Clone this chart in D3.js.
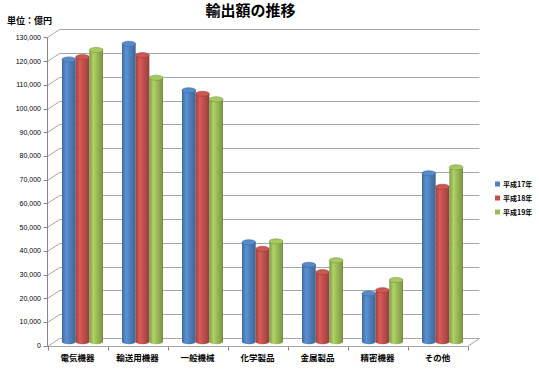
<!DOCTYPE html>
<html><head><meta charset="utf-8">
<script src="https://cdn.jsdelivr.net/npm/d3@7/dist/d3.min.js"></script>
<style>body{margin:0;background:#fff}svg{display:block}</style>
</head><body>
<script>
const categories = ["電気機器","輸送用機器","一般機械","化学製品","金属製品","精密機器","その他"];
const seriesNames = ["平成17年","平成18年","平成19年"];
const values17 = [119000,125600,106000,41900,32400,20300,71000];
const values18 = [120000,120800,104500,39100,29300,21700,65300];
const values19 = [123000,111300,102200,42300,34300,26000,73500];
const yTicks = [0,10000,20000,30000,40000,50000,60000,70000,80000,90000,100000,110000,120000,130000];
const colors = ["#4F81BD","#C0504D","#9BBB59"];
const seriesValues = [values17, values18, values19];

const W = 539, H = 369;
const svg = d3.select("body").append("svg").attr("width", W).attr("height", H);
const defs = svg.append("defs");

const DX = 12, DY = -8; // depth offset
const y = d3.scaleLinear().domain([0,130000]).range([345.7, 37.4]);
const x0 = d3.scaleBand().domain(categories).range([47.5, 467.5]);
const x1 = d3.scaleBand().domain(seriesNames).range([9.5, 50.5]);

// gradients
colors.forEach((c,i)=>{
  const g = defs.append("linearGradient").attr("id","g"+i).attr("x1","0").attr("x2","1").attr("y1","0").attr("y2","0");
  const base = d3.color(c);
  g.append("stop").attr("offset","0").attr("stop-color", base.darker(0.6));
  g.append("stop").attr("offset","0.3").attr("stop-color", base.brighter(0.35));
  g.append("stop").attr("offset","0.55").attr("stop-color", base);
  g.append("stop").attr("offset","0.9").attr("stop-color", base.darker(0.5));
  g.append("stop").attr("offset","1").attr("stop-color", base.darker(0.9));
});

const grid = svg.append("g").attr("stroke","#a6a6a6").attr("stroke-width",1).attr("fill","none");
const xL = x0.range()[0], xR = x0.range()[1];
// back wall gridlines + left wall diagonals
yTicks.forEach(t=>{
  const yy = Math.round(y(t))+0.5;
  grid.append("line").attr("x1",xL+DX).attr("x2",xR+DX).attr("y1",yy+DY).attr("y2",yy+DY);
  grid.append("line").attr("x1",xL).attr("x2",xL+DX).attr("y1",yy).attr("y2",yy+DY);
});
// floor
const y0 = Math.round(y(0))+0.5;
grid.append("path").attr("d",`M${xL},${y0}L${xR},${y0}L${xR+DX},${y0+DY}`);
// left axis
const axisG = svg.append("g").attr("stroke","#868686").attr("fill","none");
axisG.append("line").attr("x1",xL).attr("x2",xL).attr("y1",Math.round(y(130000))+0.5).attr("y2",y0);
yTicks.forEach(t=>{
  const yy = Math.round(y(t))+0.5;
  axisG.append("line").attr("x1",xL-4).attr("x2",xL).attr("y1",yy).attr("y2",yy);
});
categories.concat([null]).forEach((c,i)=>{
  const xx = c ? x0(c) : xR;
  axisG.append("line").attr("x1",Math.round(xx)+0.5).attr("x2",Math.round(xx)+0.5).attr("y1",y0).attr("y2",y0+4);
});

// y labels
svg.append("g").selectAll("text").data(yTicks).join("text")
  .attr("x",41).attr("y",d=>y(d)+2.5).attr("text-anchor","end")
  .attr("font-family","Liberation Sans, Arial, sans-serif").attr("font-size",7).attr("fill","#000")
  .text(d=>d3.format(",")(d));

// bars (cylinders)
const bars = svg.append("g");
const w = x1.bandwidth();
const ry = 2.6;
categories.forEach((c,ci)=>{
  seriesNames.forEach((s,si)=>{
    const v = seriesValues[si][ci];
    const bx = x0(c) + x1(s) + DX/2 - 1;
    const top = y(v) + DY/2;
    const bot = y(0) + DY/2;
    const g = bars.append("g");
    g.append("path")
      .attr("d",`M${bx},${top}L${bx},${bot}A${w/2},${ry} 0 0 0 ${bx+w},${bot}L${bx+w},${top}Z`)
      .attr("fill",`url(#g${si})`);
    g.append("ellipse").attr("cx",bx+w/2).attr("cy",top).attr("rx",w/2).attr("ry",ry)
      .attr("fill",d3.color(colors[si]).brighter(0.2)).attr("stroke",d3.color(colors[si]).darker(0.6)).attr("stroke-width",0.6);
  });
});

// category labels
svg.append("g").selectAll("text").data(categories).join("text")
  .attr("x",d=>x0(d)+x0.bandwidth()/2).attr("y",361).attr("text-anchor","middle")
  .attr("font-family","Noto Sans CJK JP, sans-serif").attr("font-size",8.5).attr("font-weight","bold").attr("fill","#000")
  .text(d=>d);

// title
svg.append("text").attr("x",250.5).attr("y",15.5).attr("text-anchor","middle")
  .attr("font-family","Noto Sans CJK JP, sans-serif").attr("font-size",15).attr("font-weight","bold").text("輸出額の推移");
svg.append("text").attr("x",7).attr("y",24).attr("font-family","Noto Sans CJK JP, sans-serif")
  .attr("font-size",9).attr("font-weight","bold").text("単位：億円");

// legend
const lg = svg.append("g");
seriesNames.forEach((s,i)=>{
  const ly = 184 + i*14;
  lg.append("rect").attr("x",495).attr("y",ly-2.5).attr("width",5).attr("height",5).attr("fill",colors[i]);
  lg.append("text").attr("x",503).attr("y",ly+2.5).attr("font-family","Noto Sans CJK JP, sans-serif")
    .attr("font-size",7).attr("font-weight","bold").text(s);
});
</script>
</body></html>
